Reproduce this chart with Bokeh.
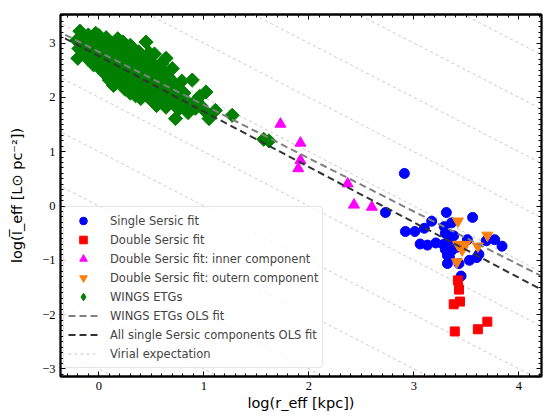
import numpy as np
from bokeh.plotting import figure
from bokeh.models import (LinearAxis, Legend, LegendItem, Range1d,
                          SingleIntervalTicker)
from bokeh.embed import file_html
from bokeh.resources import INLINE

# ---------------- data ----------------
single_x = [2.91, 2.73, 3.31, 3.56, 3.17, 3.36, 3.10, 2.92, 3.01, 3.30, 3.29,
            3.51, 3.69, 3.77, 3.84, 3.06, 3.13, 3.21, 3.28, 3.41, 3.36, 3.33,
            3.62, 3.53, 3.32, 3.32, 3.43, 3.45, 3.34, 3.38, 3.30, 3.60]
single_y = [0.60, -0.12, -0.12, -0.21, -0.28, -0.31, -0.41, -0.47, -0.47, -0.50, -0.38,
            -0.62, -0.64, -0.62, -0.74, -0.70, -0.72, -0.68, -0.71, -0.76, -0.82, -0.64,
            -0.89, -1.00, -0.91, -1.06, -1.06, -1.29, -0.95, -0.55, -0.80, -0.95]

double_x = [3.42, 3.43, 3.44, 3.38, 3.39, 3.61, 3.70]
double_y = [-1.37, -1.54, -1.76, -1.81, -2.31, -2.27, -2.13]

inner_x = [1.73, 1.92, 1.92, 1.90, 2.37, 2.43, 2.60]
inner_y = [1.51, 1.16, 0.84, 0.69, 0.41, 0.02, -0.02]

outer_x = [3.42, 3.70, 3.42, 3.49, 3.46, 3.61, 3.41]
outer_y = [-0.28, -0.54, -0.71, -0.71, -0.81, -0.74, -1.03]

wings_x = [-0.20, -0.19, -0.21, -0.18, -0.15, -0.14, -0.16, -0.10, -0.11, -0.09, -0.10,
           -0.05, -0.04, -0.06, -0.05, -0.03, 0.00, 0.01, -0.01, 0.02, 0.00,
           0.05, 0.06, 0.04, 0.05, 0.07, 0.10, 0.11, 0.09, 0.10, 0.12,
           0.14, 0.15, 0.13, 0.16, 0.14, 0.18, 0.20, 0.21, 0.19, 0.22, 0.20,
           0.25, 0.24, 0.26, 0.25, 0.27, 0.23, 0.30, 0.31, 0.29, 0.30, 0.32, 0.30,
           0.35, 0.34, 0.36, 0.35, 0.37, 0.33, 0.40, 0.42, 0.39, 0.41, 0.40, 0.38,
           0.45, 0.44, 0.46, 0.45, 0.47, 0.45, 0.50, 0.51, 0.49, 0.52, 0.50, 0.48,
           0.55, 0.56, 0.54, 0.55, 0.57, 0.53, 0.60, 0.61, 0.59, 0.62, 0.60,
           0.64, 0.65, 0.63, 0.66, 0.64, 0.70, 0.69, 0.71, 0.70, 0.73,
           0.76, 0.77, 0.75, 0.80, 0.81, 0.79, 0.85, 0.84, 0.89, 0.92, 0.93,
           0.97, 0.96, 1.02, 1.01, 1.05, 1.11, 1.27, 1.57, 1.62]
wings_y = [2.72, 2.90, 3.05, 3.22, 2.82, 2.98, 3.12, 2.70, 2.85, 3.00, 3.15,
           2.60, 2.78, 2.93, 3.08, 3.18, 2.55, 2.70, 2.86, 3.00, 3.14,
           2.45, 2.62, 2.80, 2.95, 3.10, 2.32, 2.50, 2.68, 2.84, 3.00,
           2.22, 2.40, 2.58, 2.76, 2.92, 3.08, 2.30, 2.48, 2.66, 2.82, 2.98,
           2.15, 2.36, 2.55, 2.72, 2.88, 3.02, 2.08, 2.25, 2.44, 2.62, 2.80, 2.96,
           2.03, 2.20, 2.38, 2.55, 2.72, 2.88, 1.98, 2.15, 2.32, 2.50, 2.66, 2.84,
           2.05, 2.22, 2.40, 2.58, 2.76, 3.02, 1.95, 2.12, 2.30, 2.48, 2.65, 2.82,
           1.85, 2.05, 2.22, 2.40, 2.58, 2.80, 1.92, 2.10, 2.28, 2.46, 2.62,
           1.82, 2.00, 2.18, 2.38, 2.72, 1.92, 2.10, 2.28, 2.53, 1.61,
           1.78, 1.98, 2.18, 1.88, 2.08, 2.30, 1.72, 1.92, 2.32, 1.80, 1.95,
           1.85, 2.02, 2.10, 1.75, 1.61, 1.76, 1.67, 1.23, 1.20]

# OLS fits: log I = intercept + slope * log r
wings_fit = (2.84, -0.98)
all_fit = (2.76, -1.02)
# virial expectation: log I = const - log r
virial_consts = [-3, -2, -1, 0, 1, 2, 3, 4, 5, 6, 7]

y_tick_labels = {-3: "\u22123", -2: "\u22122", -1: "\u22121", 0: "0", 1: "1", 2: "2", 3: "3"}

# ---------------- figure ----------------
p = figure(width=543, height=416, output_backend="svg", toolbar_location=None,
           x_range=Range1d(-0.365, 4.216), y_range=Range1d(-3.14, 3.527),
           min_border_left=60, min_border_right=2, min_border_top=14,
           min_border_bottom=40)
p.grid.visible = False
p.outline_line_color = "black"
p.outline_line_width = 1.8
p.background_fill_color = "white"

p.add_layout(LinearAxis(), "right")
p.add_layout(LinearAxis(), "above")

for ax in p.axis:
    ax.ticker = SingleIntervalTicker(interval=1, num_minor_ticks=10)
    ax.axis_line_color = "black"
    ax.axis_line_width = 1.8
    ax.major_tick_in = 5
    ax.major_tick_out = 0
    ax.minor_tick_in = 3
    ax.minor_tick_out = 0
    ax.major_tick_line_color = "black"
    ax.minor_tick_line_color = "black"
    ax.major_label_text_font = "Liberation Serif"
    ax.major_label_text_font_size = "12.5px"
    ax.major_label_text_color = "black"
    ax.major_label_standoff = 5

# right / top axes: ticks only, labels not drawn
for ax in p.right + p.above:
    ax.major_label_text_color = None
    ax.major_label_text_font_size = "0px"
    ax.major_label_standoff = 0

p.yaxis[0].major_label_overrides = y_tick_labels

xa = p.below[0]
xa.axis_label = "log(r_eff [kpc])"
ya = p.left[0]
ya.axis_label = "log(I\u0305_eff [L\u2299 pc\u207b\u00b2])"
for ax in (xa, ya):
    ax.axis_label_text_font = "DejaVu Sans"
    ax.axis_label_text_font_size = "14.5px"
    ax.axis_label_text_font_style = "normal"
    ax.axis_label_text_color = "black"
xa.axis_label_standoff = 2
ya.axis_label_standoff = 14

# virial lines
xv0, xv1 = -0.6, 4.6
r_vir = p.multi_line(xs=[[xv0, xv1] for c in virial_consts],
                     ys=[[c - xv0, c - xv1] for c in virial_consts],
                     line_color="#c8c8c8", line_width=1, line_dash="3 3")

r_wings = p.scatter(wings_x, wings_y, marker="square", size=10, angle=np.pi / 4,
                    fill_color="#007f00", line_color="#007f00")
# legend swatch for the diamonds (legend glyphs are drawn unrotated); NaN -> not drawn in plot
r_wings_key = p.scatter([np.nan], [np.nan], marker="diamond", size=10,
                        fill_color="#007f00", line_color="#007f00")
r_single = p.scatter(single_x, single_y, marker="circle", size=10,
                     fill_color="#0000ff", line_color="#0000ff")
r_double = p.scatter(double_x, double_y, marker="square", size=9,
                     fill_color="#ff0000", line_color="#ff0000")
r_inner = p.scatter(inner_x, inner_y, marker="triangle", size=11,
                    fill_color="#ff00ff", line_color="#ff00ff")
r_outer = p.scatter(outer_x, outer_y, marker="inverted_triangle", size=11,
                    fill_color="#ff7f0e", line_color="#ff7f0e")

xl = [-0.6, 4.6]
r_wfit = p.line(xl, [wings_fit[0] + wings_fit[1] * v for v in xl],
                line_color="#808080", line_width=2, line_dash="7 4")
r_afit = p.line(xl, [all_fit[0] + all_fit[1] * v for v in xl],
                line_color="#333333", line_width=2, line_dash="7 4")

legend = Legend(items=[
    LegendItem(label="Single Sersic fit", renderers=[r_single]),
    LegendItem(label="Double Sersic fit", renderers=[r_double]),
    LegendItem(label="Double Sersic fit: inner component", renderers=[r_inner]),
    LegendItem(label="Double Sersic fit: outern component", renderers=[r_outer]),
    LegendItem(label="WINGS ETGs", renderers=[r_wings_key]),
    LegendItem(label="WINGS ETGs OLS fit", renderers=[r_wfit]),
    LegendItem(label="All single Sersic components OLS fit", renderers=[r_afit]),
    LegendItem(label="Virial expectation", renderers=[r_vir]),
], location=(3, 8), margin=0, padding=4, spacing=0,
    glyph_width=30, glyph_height=19, label_height=19, label_standoff=12,
    label_text_font="DejaVu Sans", label_text_font_size="11.5px",
    border_line_color="#cccccc", border_line_width=1,
    background_fill_color="white", background_fill_alpha=0.8)
if "border_radius" in Legend.properties():
    legend.border_radius = 4
p.add_layout(legend)

open("out.html", "w").write(file_html(p, INLINE))
